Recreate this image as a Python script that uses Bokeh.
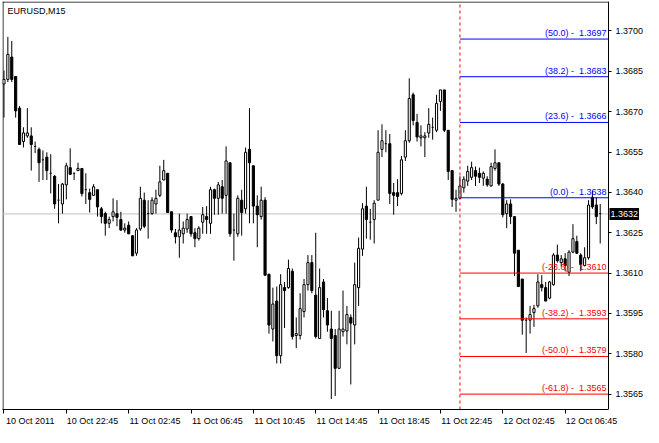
from bokeh.plotting import figure
from bokeh.models import FixedTicker, PrintfTickFormatter, Span, Label, Range1d, ColumnDataSource
from bokeh.embed import file_html
from bokeh.resources import INLINE
from bokeh.core.properties import value

# ---------------- data (EURUSD M15) ----------------
bar_open = [
    1.36803, 1.36820, 1.36903, 1.36831, 1.36713, 1.36589, 1.36610, 1.36610, 1.36571, 1.36560,
    1.36521, 1.36531, 1.36471, 1.36460, 1.36371, 1.36357, 1.36428, 1.36492, 1.36471, 1.36481,
    1.36489, 1.36410, 1.36399, 1.36389, 1.36410, 1.36339, 1.36321, 1.36285, 1.36310, 1.36321,
    1.36299, 1.36260, 1.36278, 1.36239, 1.36174, 1.36264, 1.36371, 1.36321, 1.36321, 1.36357,
    1.36389, 1.36446, 1.36471, 1.36328, 1.36250, 1.36235, 1.36246, 1.36264, 1.36310, 1.36250,
    1.36228, 1.36289, 1.36310, 1.36285, 1.36410, 1.36378, 1.36421, 1.36389, 1.36510, 1.36260,
    1.36246, 1.36371, 1.36339, 1.36560, 1.36499, 1.36349, 1.36310, 1.36371, 1.36096, 1.35892,
    1.35996, 1.35793, 1.36046, 1.36046, 1.36107, 1.35868, 1.35868, 1.35957, 1.36057, 1.36139,
    1.36018, 1.35857, 1.36067, 1.35960, 1.35892, 1.35868, 1.35746, 1.35882, 1.35885, 1.35935,
    1.35907, 1.36046, 1.36189, 1.36349, 1.36289, 1.36299, 1.36371, 1.36560, 1.36581, 1.36581,
    1.36399, 1.36399, 1.36396, 1.36531, 1.36592, 1.36763, 1.36660, 1.36603, 1.36603, 1.36621,
    1.36642, 1.36631, 1.36738, 1.36781, 1.36631, 1.36481, 1.36371, 1.36378, 1.36417, 1.36442,
    1.36456, 1.36481, 1.36471, 1.36453, 1.36449, 1.36424, 1.36489, 1.36510, 1.36431, 1.36321,
    1.36357, 1.36310, 1.36185, 1.36078, 1.35925, 1.35925, 1.35953, 1.35978, 1.36057, 1.36046,
    1.36007, 1.36057, 1.36167, 1.36139, 1.36153, 1.36103, 1.36178, 1.36217, 1.36167, 1.36128,
    1.36157, 1.36382, 1.36353, 1.36321,
]
bar_high = [
    1.36853, 1.36978, 1.36963, 1.36831, 1.36721, 1.36642, 1.36713, 1.36642, 1.36589, 1.36567,
    1.36556, 1.36549, 1.36542, 1.36464, 1.36431, 1.36435, 1.36510, 1.36564, 1.36474, 1.36510,
    1.36489, 1.36471, 1.36414, 1.36431, 1.36410, 1.36346, 1.36328, 1.36310, 1.36378, 1.36371,
    1.36328, 1.36285, 1.36292, 1.36239, 1.36267, 1.36421, 1.36399, 1.36371, 1.36382, 1.36410,
    1.36499, 1.36521, 1.36471, 1.36328, 1.36264, 1.36321, 1.36292, 1.36321, 1.36310, 1.36267,
    1.36274, 1.36346, 1.36349, 1.36421, 1.36414, 1.36439, 1.36446, 1.36571, 1.36510, 1.36321,
    1.36389, 1.36410, 1.36567, 1.36713, 1.36499, 1.36389, 1.36421, 1.36382, 1.36096, 1.36046,
    1.36050, 1.36096, 1.36067, 1.36150, 1.36117, 1.35935, 1.36025, 1.36078, 1.36167, 1.36167,
    1.36250, 1.36117, 1.36078, 1.36007, 1.35960, 1.35892, 1.35960, 1.36035, 1.35978, 1.35946,
    1.36139, 1.36232, 1.36360, 1.36421, 1.36339, 1.36371, 1.36631, 1.36653, 1.36631, 1.36617,
    1.36435, 1.36449, 1.36535, 1.36631, 1.36824, 1.36771, 1.36692, 1.36649, 1.36624, 1.36713,
    1.36678, 1.36763, 1.36781, 1.36781, 1.36631, 1.36481, 1.36410, 1.36460, 1.36460, 1.36499,
    1.36514, 1.36496, 1.36492, 1.36478, 1.36460, 1.36510, 1.36560, 1.36510, 1.36435, 1.36371,
    1.36374, 1.36310, 1.36185, 1.36078, 1.35935, 1.35978, 1.35982, 1.36096, 1.36092, 1.36067,
    1.36071, 1.36174, 1.36206, 1.36167, 1.36174, 1.36185, 1.36282, 1.36239, 1.36174, 1.36196,
    1.36371, 1.36407, 1.36382, 1.36357,
]
bar_low = [
    1.36678, 1.36810, 1.36810, 1.36678, 1.36578, 1.36567, 1.36603, 1.36481, 1.36546, 1.36439,
    1.36446, 1.36446, 1.36396, 1.36339, 1.36285, 1.36321, 1.36374, 1.36467, 1.36446, 1.36481,
    1.36385, 1.36357, 1.36325, 1.36389, 1.36310, 1.36285, 1.36239, 1.36267, 1.36292, 1.36274,
    1.36257, 1.36250, 1.36246, 1.36164, 1.36164, 1.36257, 1.36267, 1.36228, 1.36317, 1.36321,
    1.36382, 1.36446, 1.36325, 1.36250, 1.36210, 1.36157, 1.36210, 1.36250, 1.36235, 1.36196,
    1.36221, 1.36246, 1.36246, 1.36246, 1.36317, 1.36317, 1.36321, 1.36321, 1.36235, 1.36146,
    1.36235, 1.36239, 1.36321, 1.36285, 1.36285, 1.36196, 1.36299, 1.36092, 1.35875, 1.35846,
    1.35764, 1.35764, 1.35896, 1.36042, 1.35853, 1.35821, 1.35853, 1.35935, 1.36035, 1.36025,
    1.35857, 1.35857, 1.35935, 1.35882, 1.35632, 1.35643, 1.35746, 1.35864, 1.35835, 1.35686,
    1.35835, 1.35978, 1.36164, 1.36228, 1.36224, 1.36210, 1.36371, 1.36531, 1.36549, 1.36357,
    1.36317, 1.36349, 1.36389, 1.36517, 1.36585, 1.36649, 1.36589, 1.36571, 1.36531, 1.36603,
    1.36596, 1.36624, 1.36703, 1.36624, 1.36446, 1.36346, 1.36328, 1.36374, 1.36399, 1.36424,
    1.36446, 1.36424, 1.36435, 1.36424, 1.36421, 1.36421, 1.36481, 1.36424, 1.36307, 1.36267,
    1.36282, 1.36089, 1.36050, 1.35871, 1.35803, 1.35875, 1.35900, 1.35971, 1.36032, 1.35996,
    1.36003, 1.36053, 1.36139, 1.36125, 1.36107, 1.36089, 1.36174, 1.36171, 1.36107, 1.36125,
    1.36150, 1.36339, 1.36282, 1.36210,
]
bar_close = [
    1.36820, 1.36913, 1.36820, 1.36703, 1.36578, 1.36621, 1.36621, 1.36578, 1.36571, 1.36510,
    1.36521, 1.36481, 1.36471, 1.36357, 1.36371, 1.36431, 1.36499, 1.36467, 1.36471, 1.36489,
    1.36396, 1.36410, 1.36374, 1.36421, 1.36346, 1.36310, 1.36285, 1.36299, 1.36328, 1.36307,
    1.36260, 1.36267, 1.36246, 1.36164, 1.36260, 1.36378, 1.36274, 1.36321, 1.36371, 1.36378,
    1.36439, 1.36481, 1.36325, 1.36260, 1.36235, 1.36260, 1.36267, 1.36299, 1.36246, 1.36228,
    1.36267, 1.36317, 1.36299, 1.36410, 1.36378, 1.36428, 1.36378, 1.36517, 1.36246, 1.36260,
    1.36378, 1.36325, 1.36549, 1.36510, 1.36349, 1.36317, 1.36371, 1.36092, 1.35907, 1.35985,
    1.35793, 1.36057, 1.36035, 1.36117, 1.35864, 1.35875, 1.35968, 1.36057, 1.36139, 1.36035,
    1.35864, 1.36046, 1.35964, 1.35907, 1.35857, 1.35746, 1.35892, 1.35892, 1.35946, 1.35914,
    1.36057, 1.36192, 1.36339, 1.36299, 1.36289, 1.36360, 1.36549, 1.36592, 1.36581, 1.36396,
    1.36389, 1.36385, 1.36521, 1.36592, 1.36749, 1.36667, 1.36606, 1.36610, 1.36610, 1.36653,
    1.36642, 1.36731, 1.36781, 1.36631, 1.36478, 1.36374, 1.36378, 1.36424, 1.36449, 1.36478,
    1.36492, 1.36460, 1.36456, 1.36471, 1.36428, 1.36496, 1.36510, 1.36431, 1.36317, 1.36357,
    1.36310, 1.36174, 1.36050, 1.35925, 1.35925, 1.35946, 1.35968, 1.36067, 1.36046, 1.35996,
    1.36067, 1.36167, 1.36146, 1.36153, 1.36128, 1.36178, 1.36228, 1.36174, 1.36132, 1.36157,
    1.36353, 1.36346, 1.36310, 1.36321,
]

x_tick_bars = [0, 16, 32, 48, 64, 80, 96, 112, 128, 144]
x_tick_labels = ["10 Oct 2011", "10 Oct 22:45", "11 Oct 02:45", "11 Oct 06:45", "11 Oct 10:45",
                 "11 Oct 14:45", "11 Oct 18:45", "11 Oct 22:45", "12 Oct 02:45", "12 Oct 06:45"]
y_ticks = [1.3565, 1.3580, 1.3595, 1.3610, 1.3625, 1.3640, 1.3655, 1.3670, 1.3685, 1.3700]

fib_levels = [50.0, 38.2, 23.6, 0.0, -23.6, -38.2, -50.0, -61.8]
fib_prices = [1.3697, 1.3683, 1.3666, 1.3638, 1.3610, 1.3593, 1.3579, 1.3565]
fib_start_bar = 117
last_price = 1.3632
symbol_title = "EURUSD,M15"

# ---------------- layout ----------------
CW, FH = 606, 408          # chart (candle area) width / height in px
AXW = 35                   # room for the price scale, inside the frame
FW = CW + AXW
X0, X1 = -0.375, 155.125   # bar range of the candle area
Y0, Y1 = 1.355929, 1.371096
PXB = CW / (X1 - X0)       # px per bar
PXP = FH / (Y1 - Y0)       # px per price unit
XE = X1 + AXW / PXB
FONT = "Liberation Sans"
NBSP = "\u00a0"

p = figure(frame_width=FW, frame_height=FH, output_backend="svg", toolbar_location=None,
           x_range=Range1d(X0, XE), y_range=Range1d(Y0, Y1), y_axis_location="right",
           min_border_left=2, min_border_top=1, min_border_right=0, min_border_bottom=0,
           background_fill_color="white", border_fill_color="white")
p.grid.visible = False
p.outline_line_color = None

n = min(len(bar_open), len(bar_high), len(bar_low), len(bar_close))
idx = list(range(n))

# chart border (top / left)
p.segment(x0=[X0, X0 + 0.5 / PXB], x1=[X1, X0 + 0.5 / PXB],
          y0=[Y1 - 0.5 / PXP, Y0], y1=[Y1 - 0.5 / PXP, Y1], line_color="black", line_width=1)

# current price line behind candles
p.segment(x0=[X0], x1=[X1], y0=[last_price], y1=[last_price], line_color="#C0C0C0", line_width=1)

# wicks
p.segment(x0=idx, y0=bar_low[:n], x1=idx, y1=bar_high[:n], line_color="black", line_width=1)

up = [i for i in idx if bar_close[i] > bar_open[i]]
dn = [i for i in idx if bar_close[i] < bar_open[i]]
dj = [i for i in idx if bar_close[i] == bar_open[i]]
BW = 0.55
p.vbar(x=up, bottom=[bar_open[i] for i in up], top=[bar_close[i] for i in up], width=BW,
       fill_color="white", line_color="black", line_width=1)
p.vbar(x=dn, bottom=[bar_close[i] for i in dn], top=[bar_open[i] for i in dn], width=BW,
       fill_color="black", line_color="black", line_width=1)
p.segment(x0=[i - BW / 2 for i in dj], x1=[i + BW / 2 for i in dj],
          y0=[bar_open[i] for i in dj], y1=[bar_open[i] for i in dj], line_color="black", line_width=1)

# fibonacci levels
fib_colors = ["#0000FF" if lv >= 0 else "#FF0000" for lv in fib_levels]
p.segment(x0=[fib_start_bar] * len(fib_prices), x1=[X1] * len(fib_prices),
          y0=fib_prices, y1=fib_prices, line_color=fib_colors, line_width=1)
fib_src = ColumnDataSource(dict(
    x=[X1] * len(fib_prices), y=fib_prices, c=fib_colors,
    t=[f"({lv:.1f}){NBSP}-{NBSP}{NBSP}{pr:.4f}" for lv, pr in zip(fib_levels, fib_prices)]))
p.text(x="x", y="y", text="t", text_color="c", source=fib_src, text_align="right",
       text_baseline="bottom", x_offset=-2, y_offset=-1, text_font=value(FONT),
       text_font_size="9px")

# vertical dashed line
p.segment(x0=[fib_start_bar], x1=[fib_start_bar], y0=[Y0], y1=[Y1], line_color="#FF0000",
          line_width=1, line_dash="3 3")

# title
p.add_layout(Label(x=5, y=FH - 4, x_units="screen", y_units="screen", text=symbol_title,
                   text_baseline="top", text_align="left", text_font=FONT,
                   text_font_size="9px", text_color="black"))

# current price box on the price scale
p.add_layout(Label(x=X1, y=last_price, x_units="data", y_units="data", x_offset=1,
                   text=f"{last_price:.4f}", text_baseline="middle", text_align="left",
                   text_font=FONT, text_font_size="9px", text_color="white",
                   background_fill_color="black", background_fill_alpha=1.0, padding=(1, 3)))

# y axis: drawn at the right edge of the candle area
ya = p.yaxis[0]
ya.fixed_location = X1
ya.ticker = FixedTicker(ticks=y_ticks)
ya.formatter = PrintfTickFormatter(format="%.4f")
ya.major_tick_out = 3
ya.major_tick_in = 0
ya.minor_tick_out = 0
ya.minor_tick_in = 0
ya.major_label_standoff = 4
ya.major_label_text_font = FONT
ya.major_label_text_font_size = "9px"
ya.major_label_text_color = "black"
ya.axis_line_color = "black"
ya.major_tick_line_color = "black"

# x axis: ticks at the bars (minor), labels shifted to start at the tick (major)
LABEL_SHIFT = 6.75
xa = p.xaxis[0]
label_pos = [b + LABEL_SHIFT for b in x_tick_bars]
xa.bounds = (X0, X1)
xa.ticker = FixedTicker(ticks=label_pos, minor_ticks=x_tick_bars)
xa.major_label_overrides = {pos: lab for pos, lab in zip(label_pos, x_tick_labels)}
xa.major_tick_out = 0
xa.major_tick_in = 0
xa.minor_tick_out = 4
xa.minor_tick_in = 0
xa.minor_tick_line_color = "black"
xa.major_label_standoff = 2
xa.major_label_text_font = FONT
xa.major_label_text_font_size = "9px"
xa.major_label_text_color = "black"
xa.axis_line_color = "black"

open("out.html", "w").write(file_html(p, INLINE))
